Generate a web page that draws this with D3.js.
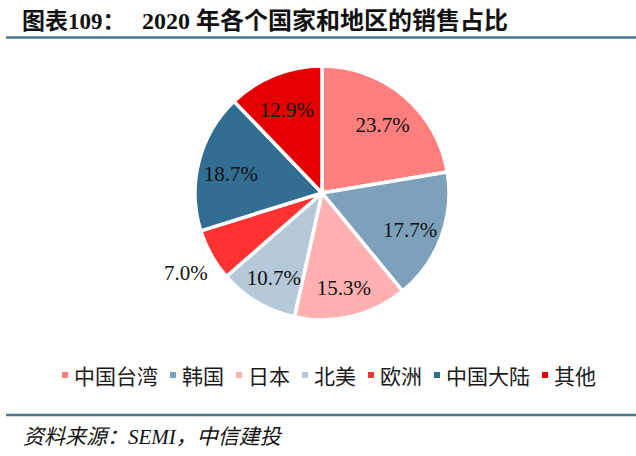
<!DOCTYPE html>
<html><head><meta charset="utf-8">
<script src="https://cdn.jsdelivr.net/npm/d3@7"></script>
<style>body{margin:0;background:#fff;}svg{display:block;}</style>
</head><body>
<svg id="c" width="636" height="456"></svg>
<script>
const categories = ["中国台湾","韩国","日本","北美","欧洲","中国大陆","其他"];
const values = [23.7,17.7,15.3,10.7,7.0,18.7,12.9];
const labels = ["23.7%","17.7%","15.3%","10.7%","7.0%","18.7%","12.9%"];
const colors = ["#FF7F7F","#7DA1BB","#FFB0B0","#B5C9D8","#FF3131","#326D92","#E40000"];
const titleText = ["图表109：","2020 年各个国家和地区的销售占比"];
const sourceText = "资料来源：SEMI，中信建投";

const svg = d3.select("#c");
const serif = "'Liberation Serif','Times New Roman','Noto Sans CJK SC',serif";
const lineColor = "#4A7686";

// title
svg.append("text").attr("x",22).attr("y",29).attr("font-family",serif).attr("font-weight","bold")
  .attr("font-size",23).attr("fill","#111").text(titleText[0]);
svg.append("text").attr("x",142).attr("y",29).attr("font-family",serif).attr("font-weight","bold")
  .attr("font-size",24).attr("fill","#111").text(titleText[1]);
svg.append("line").attr("x1",6).attr("x2",636).attr("y1",37.5).attr("y2",37.5)
  .attr("stroke",lineColor).attr("stroke-width",2.5);
svg.append("line").attr("x1",6).attr("x2",636).attr("y1",415).attr("y2",415)
  .attr("stroke",lineColor).attr("stroke-width",2.5);
svg.append("text").attr("x",23).attr("y",444).attr("font-family",serif).attr("font-style","italic")
  .attr("font-size",21).attr("fill","#111").text(sourceText);

// pie
const cx = 322, cy = 193, R = 127;
const pie = d3.pie().sort(null).value(d=>d.v);
const data = pie(categories.map((c,i)=>({c, v:values[i], l:labels[i], col:colors[i]})));
const arc = d3.arc().innerRadius(0).outerRadius(R);
const labelArc = d3.arc().innerRadius(94).outerRadius(94);
const outArc = d3.arc().innerRadius(156).outerRadius(156);
const g = svg.append("g").attr("transform",`translate(${cx},${cy})`);
g.selectAll("path").data(data).join("path").attr("d",arc).attr("fill",d=>d.data.col)
  .attr("stroke","#fff").attr("stroke-width",3.5).attr("stroke-linejoin","miter");
g.selectAll("text").data(data).join("text")
  .attr("transform",d=>{
    const p = (d.data.v < 8 ? outArc : labelArc).centroid(d);
    return `translate(${p[0]},${p[1]+4})`;
  })
  .attr("text-anchor","middle").attr("dominant-baseline","central")
  .attr("font-family",serif).attr("font-size",21).attr("fill","#111")
  .text(d=>d.data.l);

// legend
const lg = svg.append("g");
let x = 62; const ly = 375;
categories.forEach((c,i)=>{
  lg.append("rect").attr("x",x).attr("y",ly-3).attr("width",6).attr("height",6).attr("fill",colors[i]);
  const t = lg.append("text").attr("x",x+12).attr("y",ly).attr("dominant-baseline","central")
    .attr("font-family","'Noto Sans CJK SC',sans-serif").attr("font-size",21).attr("fill","#1a1a1a").text(c);
  x += 12 + t.node().getComputedTextLength() + 12;
});
</script>
</body></html>
